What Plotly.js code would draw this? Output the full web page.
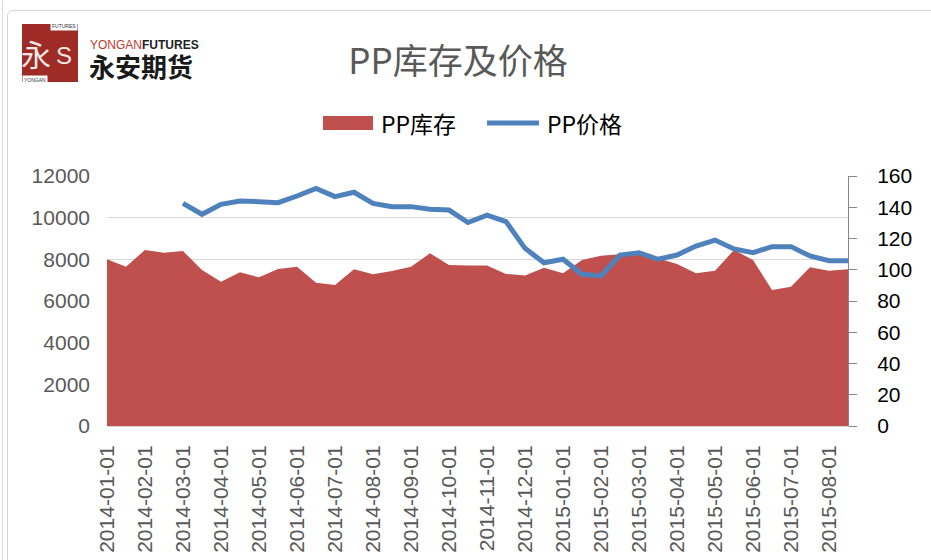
<!DOCTYPE html>
<html>
<head>
<meta charset="utf-8">
<script src="https://cdn.plot.ly/plotly-3.0.1.min.js"></script>
<style>
  html,body{margin:0;padding:0;background:#fff;}
  #wrap{position:relative;width:931px;height:560px;overflow:hidden;}
  #chart{position:absolute;left:0;top:0;width:931px;height:560px;}
  .frame{position:absolute;left:7px;top:10px;width:930px;height:570px;border:1px solid #d4d4d4;border-radius:6px;pointer-events:none;}
  .vline{position:absolute;left:2px;top:0;width:0;height:560px;border-left:1px solid #dcdcdc;pointer-events:none;}
</style>
</head>
<body>
<div id="wrap">
  <div id="chart"></div>
  <div class="frame"></div>
  <div class="vline"></div>
</div>
<script>
// ---- data ----
const dates = [
  "2014-01-01","2014-01-16","2014-02-01","2014-02-16","2014-03-01","2014-03-16",
  "2014-04-01","2014-04-16","2014-05-01","2014-05-16","2014-06-01","2014-06-16",
  "2014-07-01","2014-07-16","2014-08-01","2014-08-16","2014-09-01","2014-09-16",
  "2014-10-01","2014-10-16","2014-11-01","2014-11-16","2014-12-01","2014-12-16",
  "2015-01-01","2015-01-16","2015-02-01","2015-02-16","2015-03-01","2015-03-16",
  "2015-04-01","2015-04-16","2015-05-01","2015-05-16","2015-06-01","2015-06-16",
  "2015-07-01","2015-07-16","2015-08-01","2015-08-16"
];
const tickLabels = [
  "2014-01-01","2014-02-01","2014-03-01","2014-04-01","2014-05-01","2014-06-01",
  "2014-07-01","2014-08-01","2014-09-01","2014-10-01","2014-11-01","2014-12-01",
  "2015-01-01","2015-02-01","2015-03-01","2015-04-01","2015-05-01","2015-06-01",
  "2015-07-01","2015-08-01"
];
const inventory = [
  8000,7650,8450,8320,8400,7490,6930,7380,7140,7540,
  7650,6880,6770,7520,7280,7440,7650,8290,7730,7710,
  7700,7300,7230,7600,7330,7970,8170,8250,8290,8050,
  7780,7330,7450,8450,7970,6530,6690,7620,7450,7520
];
const price = [
  null,null,null,null,142.5,135.5,141.9,144.0,143.6,142.9,
  147.2,152.1,146.8,149.6,142.5,140.4,140.4,138.7,138.2,130.2,
  135.0,130.8,113.7,104.5,106.7,97.1,96.0,109.4,110.9,106.7,
  109.4,115.2,119.0,113.3,110.9,114.8,114.8,108.8,105.8,105.8
];
const seriesNames = ["PP库存","PP价格"];
const titleText = "PP库存及价格";

// ---- layout helpers (pixel -> paper) ----
const L = 107, R = 848, T = 176, B = 426;
const px = x => (x - L) / (R - L);
const py = y => (B - y) / (B - T);

const FONT = "Liberation Sans, Noto Sans CJK SC, sans-serif";
const CJK = "Noto Sans CJK SC, Liberation Sans, sans-serif";
const RED = "#c0504d", BLUE = "#4f81bd";

const traces = [
  {
    x: dates, y: inventory, type: "scatter", mode: "none",
    fill: "tozeroy", fillcolor: RED, name: seriesNames[0],
    showlegend: false, hoverinfo: "x+y"
  },
  {
    x: dates, y: price, type: "scatter", mode: "lines", yaxis: "y2",
    line: {color: BLUE, width: 5, shape: "linear"}, name: seriesNames[1],
    connectgaps: false, showlegend: false
  }
];

const layout = {
  width: 931, height: 560,
  margin: {l: L, r: 931 - R, t: T, b: 560 - B, pad: 0},
  paper_bgcolor: "#fff", plot_bgcolor: "#fff",
  title: {
    text: titleText, x: 458 / 931, xanchor: "center", y: 1 - 62 / 560, yanchor: "middle",
    font: {family: CJK, size: 35, color: "#595959"}
  },
  xaxis: {
    type: "category", range: [0, dates.length - 1],
    tickmode: "array", tickvals: tickLabels, ticktext: tickLabels,
    tickangle: -90, ticks: "", showgrid: false, zeroline: false,
    showline: true, linecolor: "#d9d9d9", linewidth: 1,
    tickfont: {family: FONT, size: 21, color: "#595959"},
    ticklabelstandoff: 10
  },
  yaxis: {
    range: [0, 12000], dtick: 2000, tick0: 0, tickformat: "d",
    showgrid: true, gridcolor: "#d9d9d9",
    gridwidth: 1, zeroline: false, showline: false, ticks: "",
    tickfont: {family: FONT, size: 21, color: "#595959"},
    ticklabelstandoff: 16
  },
  yaxis2: {
    overlaying: "y", side: "right", range: [0, 160], dtick: 20, tick0: 0,
    showgrid: false, zeroline: false, showline: true, linecolor: "#868686", linewidth: 1,
    ticks: "outside", ticklen: 8, tickcolor: "#868686", tickwidth: 1,
    tickfont: {family: FONT, size: 21, color: "#000"},
    ticklabelstandoff: 16
  },
  shapes: [
    // legend swatches
    {type: "rect", xref: "paper", yref: "paper", x0: px(323), x1: px(373), y0: py(130), y1: py(116),
     fillcolor: RED, line: {width: 0}},
    {type: "line", xref: "paper", yref: "paper", x0: px(487), x1: px(539), y0: py(123), y1: py(123),
     line: {color: BLUE, width: 5}},
    // logo box
    {type: "rect", xref: "paper", yref: "paper", x0: px(22), x1: px(78), y0: py(82), y1: py(24),
     fillcolor: "#9e2b25", line: {width: 0}, layer: "above"}
  ],
  annotations: [
    {text: seriesNames[0], xref: "paper", yref: "paper", x: px(379), y: py(123), xanchor: "left", yanchor: "middle",
     showarrow: false, font: {family: CJK, size: 23, color: "#000"}},
    {text: seriesNames[1], xref: "paper", yref: "paper", x: px(545), y: py(123), xanchor: "left", yanchor: "middle",
     showarrow: false, font: {family: CJK, size: 23, color: "#000"}},
    // logo texts
    {text: "永", xref: "paper", yref: "paper", x: px(36), y: py(53), xanchor: "center", yanchor: "middle",
     showarrow: false, font: {family: CJK, size: 30, color: "#f4e9e6"}},
    {text: "S", xref: "paper", yref: "paper", x: px(64), y: py(55), xanchor: "center", yanchor: "middle",
     showarrow: false, font: {family: FONT, size: 24, color: "#f4e9e6"}},
    {text: "FUTURES", xref: "paper", yref: "paper", x: px(78), y: py(26), xanchor: "right", yanchor: "middle",
     showarrow: false, font: {family: FONT, size: 5, color: "#333"}, bgcolor: "#fff"},
    {text: "YONGAN", xref: "paper", yref: "paper", x: px(22), y: py(80), xanchor: "left", yanchor: "middle",
     showarrow: false, font: {family: FONT, size: 5, color: "#333"}, bgcolor: "#fff"},
    {text: "<span style='color:#c0392b'>YONGAN</span><b>FUTURES</b>", xref: "paper", yref: "paper",
     x: px(89), y: py(45), xanchor: "left", yanchor: "middle", borderpad: 0,
     showarrow: false, font: {family: "Liberation Sans Narrow, Liberation Sans, sans-serif", size: 12, color: "#222"}},
    {text: "<b>永安期货</b>", xref: "paper", yref: "paper", x: px(88), y: py(68), xanchor: "left", yanchor: "middle",
     borderpad: 0,
     showarrow: false, font: {family: "Liberation Sans, Noto Sans CJK SC, sans-serif", size: 26, color: "#1a1a1a"}}
  ]
};

Plotly.newPlot("chart", traces, layout, {displayModeBar: false, staticPlot: true});
</script>
</body>
</html>
